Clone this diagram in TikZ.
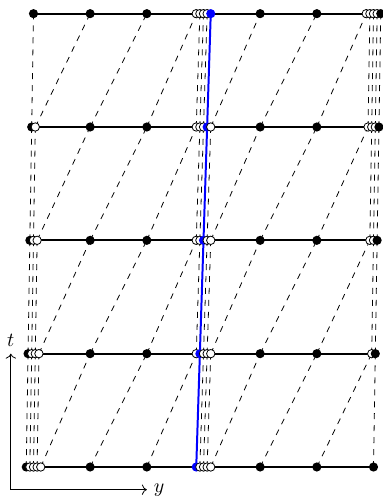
\documentclass[tikz,border=0pt]{standalone}
\usepackage{amsmath,amssymb}
\usepackage{xcolor}
\usepackage{tikz}
\usetikzlibrary{arrows.meta}

\begin{document}
\begin{tikzpicture}[>=To,
  dot/.style={circle, fill=black, inner sep=0pt, minimum size=4.6pt},
  odot/.style={circle, draw=black, fill=white, line width=0.4pt, inner sep=0pt, minimum size=4.2pt},
  bdot/.style={circle, fill=blue, inner sep=0pt, minimum size=4.6pt},
  rowline/.style={line width=0.9pt},
  link/.style={dashed, line width=0.4pt},
  traj/.style={blue, line width=1pt}]
  \useasboundingbox (-0.591,-0.547) rectangle (6.167,8.241);
  \def\eps{0.064}
  % lattice sites, row r = time step, index ii = 0..14
  \foreach \r in {0,...,4}{
    \pgfmathsetmacro{\ty}{2*\r}
    \pgfmathtruncatemacro{\nL}{4-\r}
    \foreach \k in {0,...,\nL}
      \coordinate (c-\r-\k) at ({\eps*(\k-\nL/2)},\ty);
    \pgfmathtruncatemacro{\ia}{5-\r}
    \pgfmathtruncatemacro{\ib}{6-\r}
    \coordinate (c-\r-\ia) at (1,\ty);
    \coordinate (c-\r-\ib) at (2,\ty);
    \foreach \k in {0,...,4}{
      \pgfmathtruncatemacro{\ii}{7-\r+\k}
      \coordinate (c-\r-\ii) at ({3+\eps*(\k-2)},\ty);
    }
    \pgfmathtruncatemacro{\ic}{12-\r}
    \pgfmathtruncatemacro{\ie}{13-\r}
    \coordinate (c-\r-\ic) at (4,\ty);
    \coordinate (c-\r-\ie) at (5,\ty);
    \foreach \k in {0,...,\r}{
      \pgfmathtruncatemacro{\ii}{14-\r+\k}
      \coordinate (c-\r-\ii) at ({6+\eps*(\k-\r/2)},\ty);
    }
  }
  % time slices
  \foreach \r in {0,...,4}
    \draw[rowline] (c-\r-0) -- (c-\r-14);
  % links between slices
  \foreach \r in {0,...,3}{
    \pgfmathtruncatemacro{\rn}{\r+1}
    \foreach \ii in {0,1,2,3,4,5,6,8,9,10,11,12,13,14}
      \draw[link] (c-\r-\ii) -- (c-\rn-\ii);
  }
  \draw[traj] (c-0-7) -- (c-1-7) -- (c-2-7) -- (c-3-7) -- (c-4-7);
  % sites
  \foreach \r in {0,...,4}{
    \foreach \ii in {0,...,14}{
      \pgfmathtruncatemacro{\isopen}{((\ii>=1)&&(\ii<=4-\r)) || ((\ii>=7-\r)&&(\ii<=11-\r)) || ((\ii>=14-\r)&&(\ii<=13))}
      \ifnum\ii=7
        \node[bdot] (d-\r-\ii) at (c-\r-\ii) {};
      \else\ifnum\isopen=1
        \node[odot] (d-\r-\ii) at (c-\r-\ii) {};
      \else
        \node[dot] (d-\r-\ii) at (c-\r-\ii) {};
      \fi\fi
    }
  }
  % axes
  \coordinate (O) at (-0.4,-0.4);
  \coordinate (T) at (-0.4,2);
  \coordinate (Y) at (2,-0.4);
  \draw[->] (O) -- (T) node[above] (tlab) {$t$};
  \draw[->] (O) -- (Y) node[right] (ylab) {$y$};
\end{tikzpicture}
\end{document}
